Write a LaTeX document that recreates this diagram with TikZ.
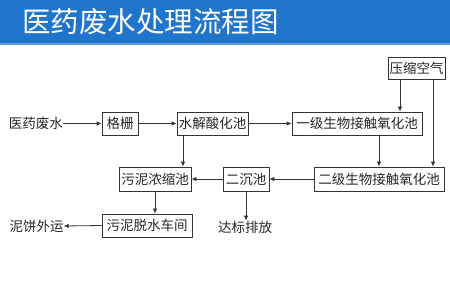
\documentclass[tikz,border=0pt]{standalone}
\usepackage{fontspec}
\setmainfont{Noto Sans CJK SC}
\newfontfamily\cjk{Noto Sans CJK SC}
\usetikzlibrary{arrows.meta}
\definecolor{hdrblue}{HTML}{1F74CC}
\definecolor{hdrline}{HTML}{5A9BDD}
\definecolor{boxline}{HTML}{333333}
\tikzset{
  procbox/.style={draw=boxline, line width=0.8pt, inner sep=0pt, font=\cjk\fontsize{13.5}{14}\selectfont, text=black!85},
  plaintext/.style={inner sep=0pt, font=\cjk\fontsize{13.5}{14}\selectfont, text=black!85},
  arr/.style={draw=boxline, line width=0.8pt, -{Latex[length=5pt,width=4.5pt]}},
}
\begin{document}
\begin{tikzpicture}[x=1pt,y=-1pt]
\useasboundingbox (0,0) rectangle (450,291);
\fill[white] (0,0) rectangle (450,291);
\fill[hdrblue] (0,0) rectangle (450,43.5);
\fill[hdrline] (0,43.5) rectangle (450,45);
\node[anchor=west, inner sep=0pt, text=white, font=\cjk\fontsize{28.5}{30}\selectfont] (title) at (22,22) {医药废水处理流程图};

\node[plaintext] (in) at (36,123.5) {医药废水};
\node[procbox, minimum width=36pt, minimum height=23pt] (gz) at (120,123.5) {格栅};
\node[procbox, minimum width=71pt, minimum height=23pt] (sj) at (212.5,123.5) {水解酸化池};
\node[procbox, minimum width=130pt, minimum height=23pt] (yj) at (357,123.5) {一级生物接触氧化池};
\node[procbox, minimum width=57pt, minimum height=22pt] (ys) at (416.5,68) {压缩空气};
\node[procbox, minimum width=130pt, minimum height=24pt] (ej) at (379,179) {二级生物接触氧化池};
\node[procbox, minimum width=46pt, minimum height=24pt] (ec) at (246,179) {二沉池};
\node[procbox, minimum width=72pt, minimum height=24pt] (wn) at (155,179) {污泥浓缩池};
\node[procbox, minimum width=90pt, minimum height=23pt] (ts) at (147,225.5) {污泥脱水车间};
\node[plaintext] (out) at (36.5,226) {泥饼外运};
\node[plaintext] (db) at (245,227) {达标排放};

\coordinate (xa) at (183,0);
\coordinate (xb) at (400,0);
\coordinate (xc) at (433,0);

\draw[arr] (in.east) -- (gz.west);
\draw[arr] (gz.east) -- (sj.west);
\draw[arr] (sj.east) -- (yj.west);
\draw[arr] (ys.south -| xb) -- (yj.north -| xb);
\draw[arr] (ys.south -| xc) -- (ej.north -| xc);
\draw[arr] (yj.south -| ej.north) -- (ej.north);
\draw[arr] (ej.west) -- (ec.east);
\draw[arr] (ec.west) -- (wn.east);
\draw[arr] (sj.south -| xa) -- (wn.north -| xa);
\draw[arr] (wn.south) -- (ts.north -| wn.south);
\draw[arr] (ts.west) -- (out.east);
\draw[arr] (ec.south) -- (db.north -| ec.south);
\end{tikzpicture}
\end{document}
